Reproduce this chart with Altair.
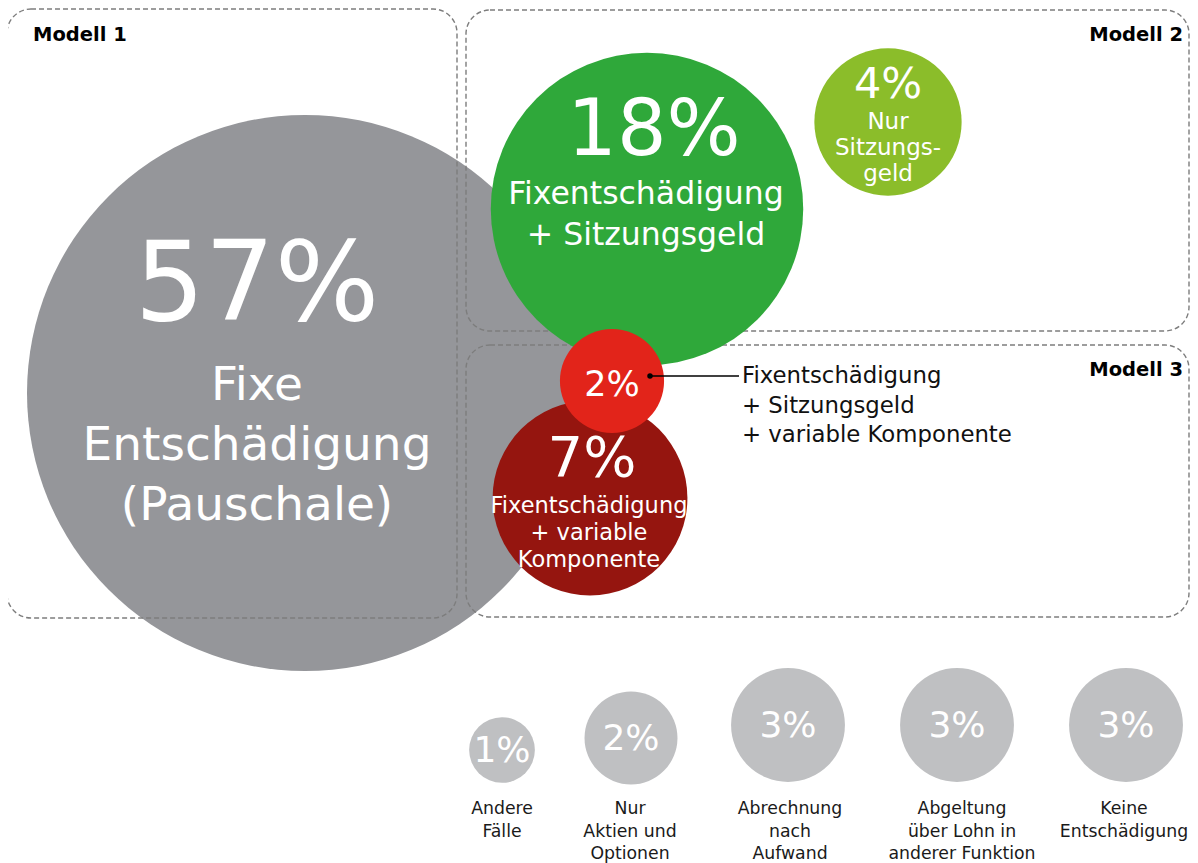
import math
import altair as alt
import pandas as pd

# ---------------- data ----------------
model_keys = ["Modell 1", "Modell 2a", "Modell 2b", "Modell 3a", "Modell 3b"]
model_values = [57, 18, 4, 7, 2]
model_pct = ["57%", "18%", "4%", "7%", "2%"]
model_labels = [
    "Fixe\nEntschädigung\n(Pauschale)",
    "Fixentschädigung\n+ Sitzungsgeld",
    "Nur\nSitzungs-\ngeld",
    "Fixentschädigung\n+ variable\nKomponente",
    "",
]
model_colors = ["#95969a", "#2fa83a", "#8bbd2a", "#95150f", "#e2241a"]
annotation_text = "Fixentschädigung\n+ Sitzungsgeld\n+ variable Komponente"

other_keys = ["a", "b", "c", "d", "e"]
other_values = [1, 2, 3, 3, 3]
other_pct = ["1%", "2%", "3%", "3%", "3%"]
other_labels = [
    "Andere\nFälle",
    "Nur\nAktien und\nOptionen",
    "Abrechnung\nnach\nAufwand",
    "Abgeltung\nüber Lohn in\nanderer Funktion",
    "Keine\nEntschädigung",
]
other_color = "#bfc0c2"

box_titles = ["Modell 1", "Modell 2", "Modell 3"]

# ---------------- layout (page pixel coordinates) ----------------
W, H = 1182, 855
model_cx = [305, 647, 888, 590, 612]
model_cy = [393, 209, 122, 498, 381]
pct_x = [257, 654, 888, 592, 612]
pct_y = [320, 155, 98, 476, 396]
pct_fs = [110, 78, 43, 56, 35]
lab_x = [257, 646, 888, 589]
lab_y = [400, 204, 129, 513]
lab_fs = [47, 31.5, 23, 22.5]
lab_lh = [60, 41, 26, 27]

other_cx = [502, 631, 788, 957, 1126]
other_cy = [750, 738, 725, 725, 725]
other_pct_y = [762, 750, 737, 737, 737]
other_lab_x = [502, 630, 790, 962, 1124]
other_lab_y = 814

box_x = [7, 466, 466]
box_x2 = [457, 1189, 1189]
box_y = [9, 10, 345]
box_y2 = [618, 331, 617]
title_x = [33, 1183, 1183]
title_y = [41, 41, 376]
title_align = ["left", "right", "right"]

FONT = "DejaVu Sans"

xs = alt.Scale(domain=[8, 8 + W], nice=False, zero=False)
ys = alt.Scale(domain=[8, 8 + H], nice=False, zero=False, reverse=True)


def X(f):
    return alt.X(f"{f}:Q", scale=xs, axis=None)


def Y(f):
    return alt.Y(f"{f}:Q", scale=ys, axis=None)


# Vega circle size = bounding-box area = (2r)^2
model_size = alt.Scale(type="linear", domain=[0, 57], range=[0, 4 * 278 ** 2])
other_size = alt.Scale(type="linear", domain=[0, 3], range=[0, 4 * 1080 * 3])

models = pd.DataFrame({
    "key": model_keys, "value": model_values, "cx": model_cx, "cy": model_cy,
})
color_scale = alt.Scale(domain=model_keys, range=model_colors)

big = alt.Chart(models.iloc[[0]]).mark_circle(opacity=1).encode(
    x=X("cx"), y=Y("cy"),
    size=alt.Size("value:Q", scale=model_size, legend=None),
    color=alt.Color("key:N", scale=color_scale, legend=None),
)
rest = alt.Chart(models.iloc[[1, 2, 3, 4]]).mark_circle(opacity=1).encode(
    x=X("cx"), y=Y("cy"),
    size=alt.Size("value:Q", scale=model_size, legend=None),
    color=alt.Color("key:N", scale=color_scale, legend=None),
)

boxes_df = pd.DataFrame({"x": box_x, "x2": box_x2, "y": box_y, "y2": box_y2})
boxes = alt.Chart(boxes_df).mark_rect(
    fill="transparent", stroke="#7d7d7d", strokeWidth=1.4, strokeDash=[5, 3], cornerRadius=24
).encode(x=X("x"), x2="x2:Q", y=Y("y"), y2="y2:Q")

layers = [big, boxes, rest]

# Model titles
for i, t in enumerate(box_titles):
    df = pd.DataFrame({"x": [title_x[i]], "y": [title_y[i]], "t": [t]})
    layers.append(alt.Chart(df).mark_text(
        font=FONT, fontSize=19.5, fontWeight="bold", align=title_align[i],
        baseline="alphabetic", color="#000000"
    ).encode(x=X("x"), y=Y("y"), text="t:N"))

# percentages in model circles
for i in range(5):
    df = pd.DataFrame({"x": [pct_x[i]], "y": [pct_y[i]], "t": [model_pct[i]]})
    layers.append(alt.Chart(df).mark_text(
        font=FONT, fontSize=pct_fs[i], align="center", baseline="alphabetic", color="white"
    ).encode(x=X("x"), y=Y("y"), text="t:N"))

# descriptions in model circles
for i in range(4):
    df = pd.DataFrame({"x": [lab_x[i]], "y": [lab_y[i]], "t": [model_labels[i]]})
    layers.append(alt.Chart(df).mark_text(
        font=FONT, fontSize=lab_fs[i], lineHeight=lab_lh[i], lineBreak="\n",
        align="center", baseline="alphabetic", color="white"
    ).encode(x=X("x"), y=Y("y"), text="t:N"))

# annotation leader for the 2% circle
lead = pd.DataFrame({"x": [650], "x2": [739], "y": [376]})
layers.append(alt.Chart(lead).mark_rule(color="#000000", strokeWidth=1.3).encode(
    x=X("x"), x2="x2:Q", y=Y("y")))
layers.append(alt.Chart(lead).mark_circle(color="#000000", opacity=1, size=30).encode(
    x=X("x"), y=Y("y")))
ann = pd.DataFrame({"x": [742], "y": [383], "t": [annotation_text]})
layers.append(alt.Chart(ann).mark_text(
    font=FONT, fontSize=22.8, lineHeight=29.5, lineBreak="\n", align="left",
    baseline="alphabetic", color="#111111"
).encode(x=X("x"), y=Y("y"), text="t:N"))

# other cases
others = pd.DataFrame({
    "key": other_keys, "value": other_values, "cx": other_cx, "cy": other_cy,
    "pct": other_pct, "py": other_pct_y, "lab": other_labels, "lx": other_lab_x,
})
others["ly"] = other_lab_y
other_circles = alt.Chart(others).mark_circle(opacity=1, color=other_color).encode(
    x=X("cx"), y=Y("cy"),
    size=alt.Size("value:Q", scale=other_size, legend=None),
)
other_pcts = alt.Chart(others).mark_text(
    font=FONT, fontSize=36, align="center", baseline="alphabetic", color="white"
).encode(x=X("cx"), y=Y("py"), text="pct:N")
other_labs = alt.Chart(others).mark_text(
    font=FONT, fontSize=17.3, lineHeight=22.5, lineBreak="\n", align="center",
    baseline="alphabetic", color="#1a1a1a"
).encode(x=X("lx"), y=Y("ly"), text="lab:N")
layers += [other_circles, other_pcts, other_labs]

chart = alt.layer(*layers).resolve_scale(size="independent", color="independent").properties(
    width=W, height=H, padding=0, autosize=alt.AutoSizeParams(type="none")
).configure_view(stroke=None)

chart.save("out.html", embed_options={"renderer": "svg", "actions": False})
